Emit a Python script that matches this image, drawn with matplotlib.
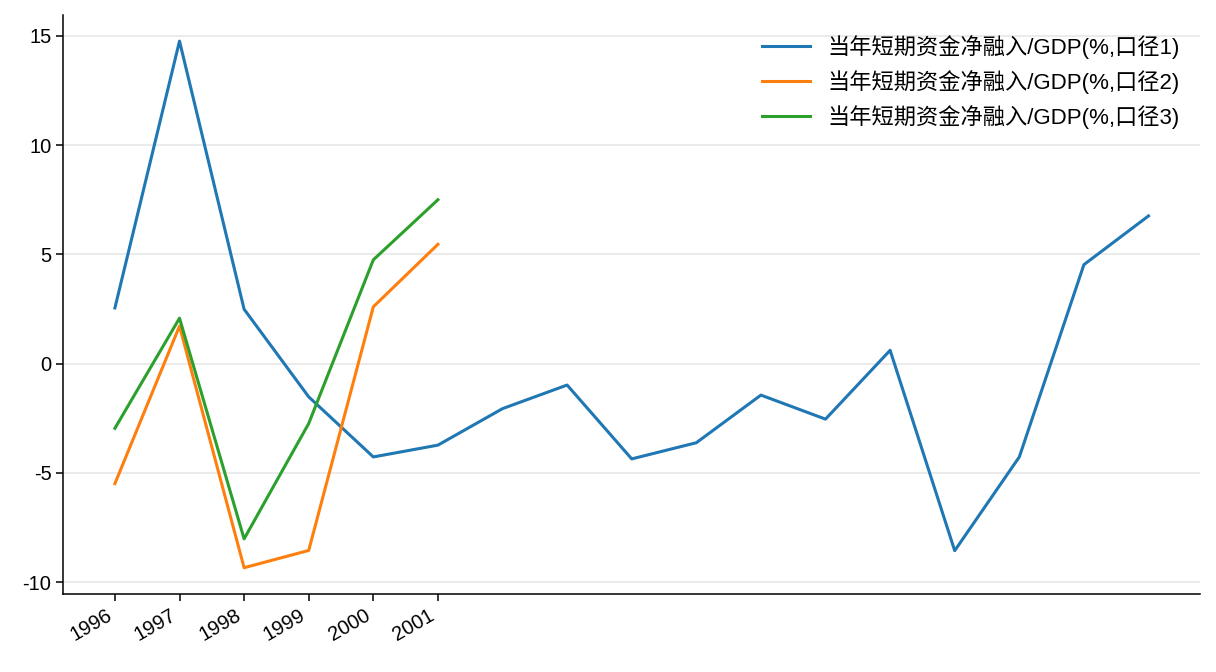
import numpy as np
import matplotlib.pyplot as plt

plt.rcParams['font.family'] = ['Liberation Sans', 'Noto Sans CJK SC', 'DejaVu Sans']
plt.rcParams['axes.unicode_minus'] = False

years = ['1996', '1997', '1998', '1999', '2000', '2001']

# 口径1 runs longer than the labelled years
short_flow_1 = [2.55, 14.76, 2.49, -1.52, -4.27, -3.73, -2.06, -0.98, -4.36, -3.62,
                -1.44, -2.54, 0.61, -8.56, -4.27, 4.53, 6.76]
short_flow_2 = [-5.49, 1.72, -9.34, -8.55, 2.60, 5.46]
short_flow_3 = [-2.96, 2.08, -8.02, -2.74, 4.75, 7.50]

labels = ['当年短期资金净融入/GDP(%,口径1)',
          '当年短期资金净融入/GDP(%,口径2)',
          '当年短期资金净融入/GDP(%,口径3)']

fig, ax = plt.subplots(figsize=(12.16, 6.72), dpi=100)

ax.plot(np.arange(len(short_flow_1)), short_flow_1, color='#1f77b4', lw=2.2, label=labels[0])
ax.plot(np.arange(len(short_flow_2)), short_flow_2, color='#ff7f0e', lw=2.2, label=labels[1])
ax.plot(np.arange(len(short_flow_3)), short_flow_3, color='#2ca02c', lw=2.2, label=labels[2])

ax.set_xticks(np.arange(len(years)))
ax.set_xticklabels(years, rotation=30, ha='right')
ax.set_yticks([-10, -5, 0, 5, 10, 15])
ax.tick_params(labelsize=14.5, length=5, width=1.1)

ax.grid(axis='y', color='#e5e5e5', lw=1.1)
ax.set_axisbelow(True)
for s in ['top', 'right']:
    ax.spines[s].set_visible(False)
for s in ['left', 'bottom']:
    ax.spines[s].set_linewidth(1.1)

ax.legend(loc='upper right', frameon=False, fontsize=16, handlelength=2.15)

plt.subplots_adjust(left=0.052, right=0.987, top=0.978, bottom=0.116)
plt.savefig('out.png', dpi=100)
